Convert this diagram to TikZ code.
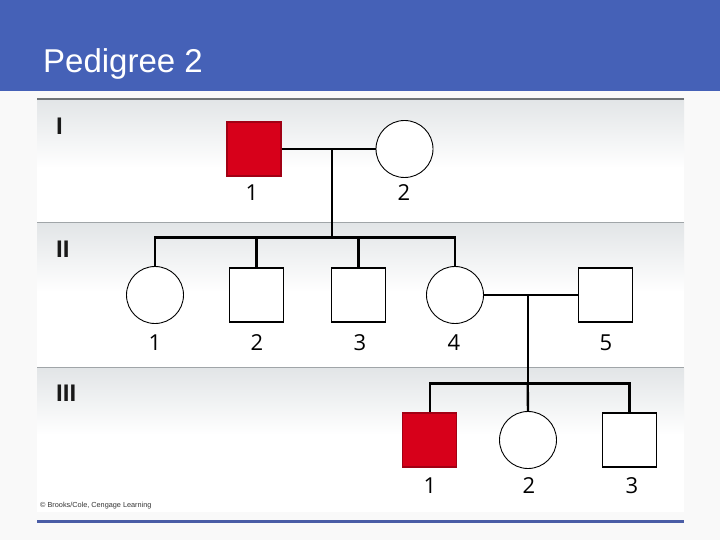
\documentclass[tikz,border=0pt]{standalone}
\usepackage{fontspec}
\setmainfont{Liberation Sans}
\newfontfamily\numfont{Open Sans}
\definecolor{hdr}{RGB}{69,97,183}
\definecolor{aff}{RGB}{215,0,26}
\definecolor{bandgray}{RGB}{226,229,231}
\definecolor{sepgray}{RGB}{160,165,168}
\definecolor{topgray}{RGB}{110,115,118}
\definecolor{botline}{RGB}{74,93,166}
\definecolor{pagebg}{RGB}{249,249,249}
\begin{document}
\begin{tikzpicture}[x=1pt,y=-1pt,
  male/.style={rectangle,draw=black,line width=1.1pt,fill=white,minimum size=54pt,inner sep=0pt},
  female/.style={circle,draw=black,line width=0.9pt,fill=white,minimum size=57pt,inner sep=0pt},
  affected/.style={fill=aff,draw=aff!75!black},
  link/.style={line width=2.4pt,black},
  num/.style={font=\numfont\fontsize{22}{24}\selectfont,inner sep=0pt},
  gen/.style={font=\fontsize{24}{26}\selectfont\bfseries,anchor=north west,inner sep=0pt,text=black!90},
  sep/.style={line width=1.5pt,sepgray}]
\useasboundingbox (0,0) rectangle (720,540);
\fill[pagebg] (0,0) rectangle (720,540);
% header
\fill[hdr] (0,0) rectangle (720,91);
\node[anchor=base west,text=white,font=\fontsize{33}{36}\selectfont,inner sep=0pt] (title) at (43,73) {Pedigree 2};
% panel
\fill[white] (37,99) rectangle (684,512);
\shade[top color=bandgray,bottom color=white] (37,99) rectangle (684,168);
\shade[top color=bandgray,bottom color=white] (37,223) rectangle (684,292);
\shade[top color=bandgray,bottom color=white] (37,368) rectangle (684,435);
\draw[line width=1.5pt,topgray] (37,99) -- (684,99);
\draw[sep] (37,222.5) -- (684,222.5);
\draw[sep] (37,367.5) -- (684,367.5);
\draw[botline,line width=3pt] (37,521.5) -- (684,521.5);
% generation labels
\node[gen] (gI) at (56,118) {I};
\node[gen] (gII) at (56,241) {II};
\node[gen] (gIII) at (56,385) {III};
% copyright
\node[anchor=west,inner sep=0pt,font=\fontsize{7.3}{8}\selectfont,text=black!80] (copy) at (40,506) {\textcopyright{} Brooks/Cole, Cengage Learning};
% generation I
\node[male,affected] (I1) at (254,149) {};
\node[female] (I2) at (404.5,149) {};
\coordinate (mI) at (331.7,149);
% generation II
\node[female] (II1) at (155,295) {};
\node[male] (II2) at (256.5,295) {};
\node[male] (II3) at (358.5,295) {};
\node[female] (II4) at (455,295) {};
\node[male] (II5) at (605.5,295) {};
\coordinate (sII) at (331.7,237.5);
\coordinate (mII) at (527.7,295);
% generation III
\node[male,affected] (III1) at (429.7,440) {};
\node[female] (III2) at (528,440) {};
\node[male] (III3) at (629.5,440) {};
\coordinate (sIII) at (527.7,383.5);
% connectors
\draw[link] (I1.east) -- (I2.west);
\draw[link] (mI) -- (sII);
\draw[link] (II1.north) |- (sII) -| (II4.north);
\draw[link] (II2.north) |- (sII);
\draw[link] (II3.north) |- (sII);
\draw[link] (II4.east) -- (II5.west);
\draw[link] (mII) -- (sIII);
\draw[link] (III1.north) |- (sIII) -| (III3.north);
\draw[link] (III2.north) -- (sIII);
% numbers
\node[num] (nI1) at (252,193) {1};
\node[num] (nI2) at (404,193) {2};
\node[num] (nII1) at (155,343) {1};
\node[num] (nII2) at (257,343) {2};
\node[num] (nII3) at (360,343) {3};
\node[num] (nII4) at (454,343) {4};
\node[num] (nII5) at (606,343) {5};
\node[num] (nIII1) at (430,486) {1};
\node[num] (nIII2) at (529,486) {2};
\node[num] (nIII3) at (632,486) {3};
\end{tikzpicture}
\end{document}
